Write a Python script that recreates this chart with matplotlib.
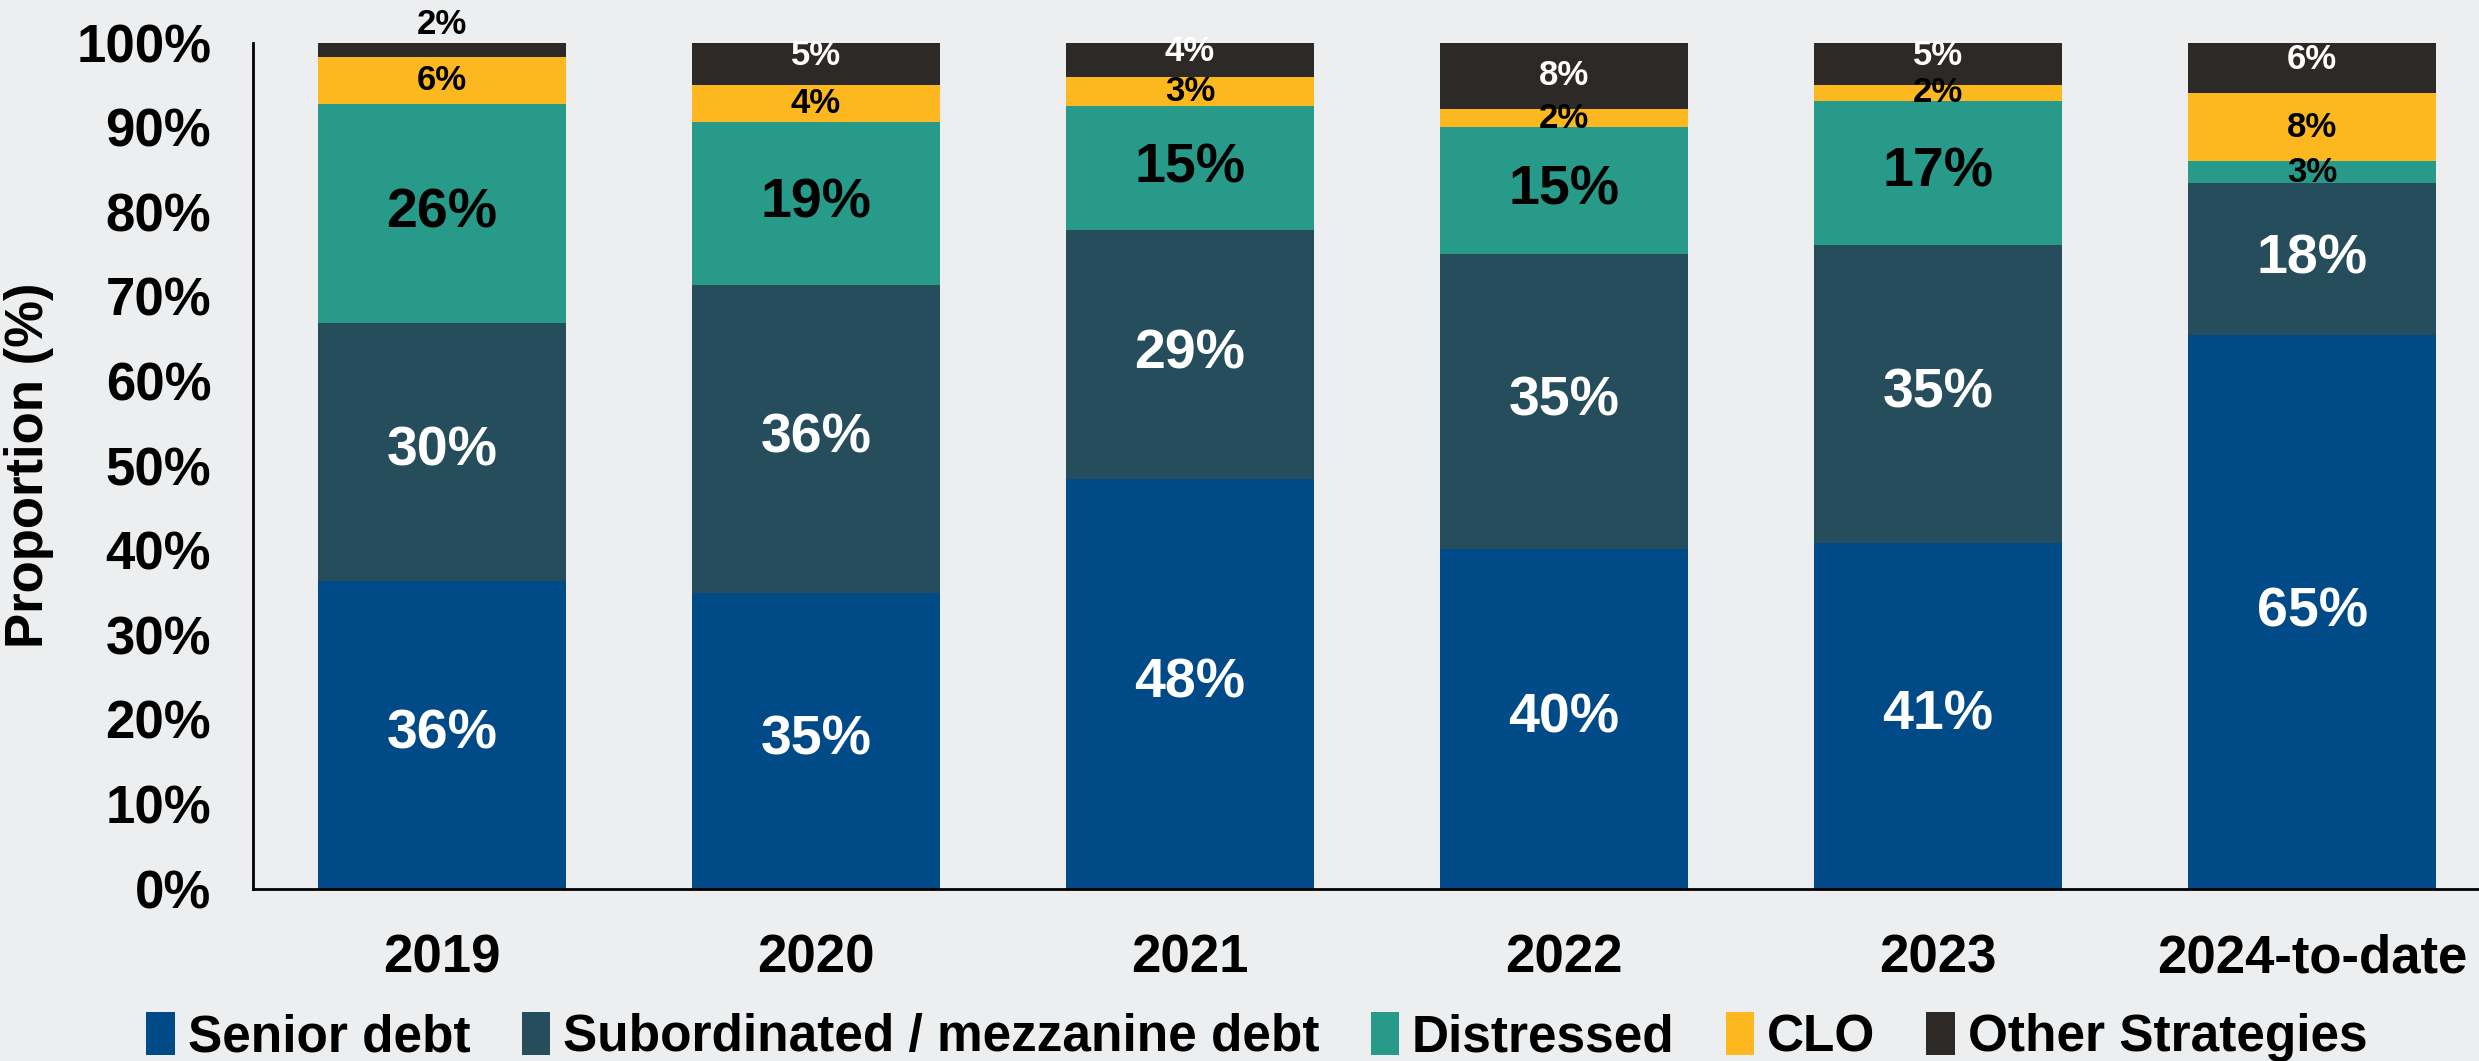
import numpy as np
import matplotlib
matplotlib.use("Agg")
import matplotlib.pyplot as plt
from matplotlib.ticker import PercentFormatter

plt.rcParams['font.family'] = ['Liberation Sans Narrow', 'Liberation Sans', 'DejaVu Sans']
plt.rcParams['font.weight'] = 'bold'

years = ["2019", "2020", "2021", "2022", "2023", "2024-to-date"]
strategies = ["Senior debt", "Subordinated / mezzanine debt", "Distressed", "CLO", "Other Strategies"]

senior = [36.4, 35.0, 48.4, 40.2, 40.9, 65.4]
subordinated = [30.5, 36.4, 29.4, 34.8, 35.2, 18.0]
distressed = [25.8, 19.2, 14.7, 15.0, 17.0, 2.6]
clo = [5.6, 4.4, 3.4, 2.1, 1.9, 8.0]
other = [1.7, 5.0, 4.1, 8.0, 5.0, 6.0]

colors = ["#004A87", "#254D5C", "#279A89", "#FDB71F", "#2D2926"]
label_colors = ["white", "white", "black", "black", "white"]


def main():
    fig = plt.figure(figsize=(24.79, 10.61), dpi=100)
    fig.patch.set_facecolor("#ECEEF0")
    ax = fig.add_axes([0.102, 0.1624, 0.898, 0.7974])
    ax.set_facecolor("none")

    x = np.arange(len(years))
    bottom = np.zeros(len(years))
    series = [senior, subordinated, distressed, clo, other]
    for i, (name, vals) in enumerate(zip(strategies, series)):
        vals = np.array(vals)
        ax.bar(x, vals, bottom=bottom, width=0.664, color=colors[i], label=name,
               edgecolor="none")
        for j, v in enumerate(vals):
            small = v < 10
            size = 25 if small else 40
            ypos = bottom[j] + v / 2
            col = label_colors[i]
            if i == len(series) - 1:
                if v < 2.5:
                    ypos = 100 + 2.2
                    col = "black"
                elif v < 7:
                    ypos += 1.0
            ax.text(x[j], ypos, f"{v:.0f}%", ha="center", va="center",
                    color=col, fontsize=size, fontweight="bold")
        bottom += vals

    ax.set_xlim(-0.505, 5.446)
    ax.set_ylim(0, 100)
    ax.set_yticks(np.arange(0, 101, 10))
    ax.yaxis.set_major_formatter(PercentFormatter(decimals=0))
    ax.set_xticks(x)
    ax.set_xticklabels(years)
    ax.tick_params(axis="both", length=0, labelsize=38)
    ax.tick_params(axis="y", pad=30)
    ax.tick_params(axis="x", pad=32)
    for lab in ax.get_xticklabels() + ax.get_yticklabels():
        lab.set_fontweight("bold")
    ax.set_ylabel("Proportion (%)", fontsize=38, fontweight="bold", labelpad=16)

    for s in ["top", "right"]:
        ax.spines[s].set_visible(False)
    for s in ["left", "bottom"]:
        ax.spines[s].set_linewidth(2)
        ax.spines[s].set_color("black")

    fig.legend(loc="lower center", bbox_to_anchor=(0.507, -0.045), ncol=5,
               frameon=False, handlelength=0.55, handleheight=0.9,
               handletextpad=0.25, columnspacing=1.0,
               prop={"weight": "bold", "size": 37})

    fig.savefig("out.png", dpi=100, facecolor=fig.get_facecolor())


if __name__ == "__main__":
    main()
